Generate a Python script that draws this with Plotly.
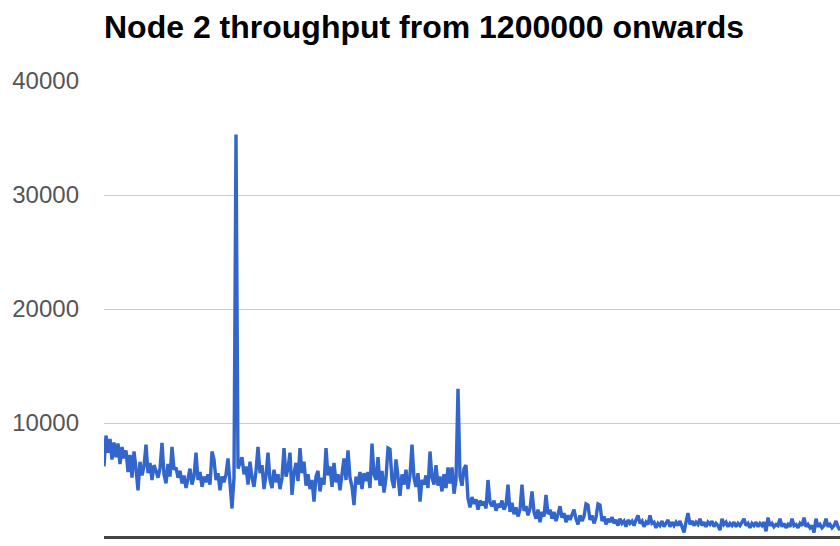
import plotly.graph_objects as go

# Throughput samples (requests per interval) for node 2, one value per sample
early_phase = [
    6200, 8900, 7400, 8600, 6800, 8300, 7000, 8200, 6400, 7900,
    6900, 7600, 5700, 7200, 5200, 7500, 6000, 4100, 6600, 5400,
    6200, 8100, 5600, 6500, 5000, 6300, 5800, 5200, 6000, 8250,
    5500, 4700, 6400, 5300, 7900, 5900, 6100, 5200, 5800, 4700,
    5400, 4300, 5100, 6000, 4600, 5300, 7400, 5000, 5700, 4400,
    5300, 4800, 5500, 4600, 7500, 6800, 5000, 5600, 4100, 5300,
    4800, 5500, 6900, 5000, 2500, 5200, 35300, 6000, 6500,
]
middle_phase = [
    7000, 5500, 6200, 4600, 6600, 5200, 4400, 5800, 7900, 5600,
    6300, 4200, 5400, 7400, 5000, 4300, 5900, 4800, 5500, 4200,
    5200, 7800, 5300, 6000, 7400, 3700, 5600, 6500, 4900, 7800,
    5600, 6600, 4500, 5500, 4200, 5000, 3100, 5300, 5800, 4000,
    5200, 4600, 7800, 5400, 6200, 4400, 6500, 4800, 5500, 4100,
    5300, 6900, 5000, 7600, 5200, 4400, 2800, 5300, 4600, 5700,
    4200, 5600, 4900, 5700, 4300, 8200, 5500,
]
late_phase = [
    5000, 7000, 4500, 5800, 3900, 5200, 7800, 7700, 5000, 4300,
    6800, 5300, 3600, 5500, 4600, 5900, 4200, 5400, 8100, 5200,
    4400, 5600, 3100, 5000, 4600, 5400, 4300, 7500, 5200, 4600,
    6300, 4500, 5300, 4000, 5500, 4300, 6100, 4700, 6100, 3800,
    5000, 13000, 5300, 4500, 6000, 6300, 3400, 2600, 3500, 2900,
    3300, 2400, 3200, 2800, 3100, 2500, 5000, 3000, 2700, 3200,
    2300, 2900, 2600, 3200, 2400, 2800, 4600,
]
decay_phase = [
    2200, 3000, 2000, 2600, 1800, 2400, 4600, 2300, 2700, 1900,
    2500, 4000, 2200, 1600, 2400, 1300, 2200, 1800, 3700, 2000,
    2400, 1600, 2200, 1400, 2000, 2700, 1700, 2100, 1300, 1900,
    1500, 2000, 2400, 1600, 1100, 1900, 1400, 1800, 2900, 2800,
    1500, 1900, 1200, 1700, 2900, 2800, 1400, 1800, 1100, 1600,
    1300, 1750, 1200, 1500, 1000, 1600, 1200, 1400, 900, 1500,
    1200, 1400, 1000, 1500, 1900, 1200, 1400, 900, 1300, 1100,
    1900, 1200, 1300, 800, 1200, 1000, 1400, 900, 1200, 1500,
    900, 1300, 1000,
]
tail_phase = [
    1300, 1000, 1400, 900, 400, 1300, 2100, 1100, 1400, 1000,
    1300, 1100, 1600, 1000, 1300, 900, 1300, 1100, 1400, 900,
    1200, 1000, 600, 1600, 1100, 1300, 900, 1200, 1000, 1300,
    900, 1200, 1000, 1300, 1600, 1000, 1200, 800, 1200, 1000,
    1300, 900, 1200, 1000, 1300, 500, 1700, 1000, 1200, 900,
    1100, 1000, 1600, 900, 1200, 800, 1100, 900, 1600, 1000,
    1100, 800, 1200, 1000, 1700, 900, 1100, 800, 1000, 400,
    1600, 900, 1100, 800, 1000, 1600, 900, 1100, 800, 1000,
    1400, 900, 600,
]

throughput = early_phase + middle_phase + late_phase + decay_phase + tail_phase
sample_index = list(range(len(throughput)))

y_ticks = [0, 10000, 20000, 30000, 40000]
y_tick_labels = ["0", "10000", "20000", "30000", "40000"]

fig = go.Figure(
    go.Scatter(
        x=sample_index,
        y=throughput,
        mode="lines",
        line=dict(color="#3366cc", width=3.4),
        hoverinfo="x+y",
    )
)

fig.update_layout(
    width=840,
    height=546,
    margin=dict(l=104, r=0, t=81, b=9),
    paper_bgcolor="white",
    plot_bgcolor="white",
    showlegend=False,
    font=dict(family="Liberation Sans, Arial, sans-serif"),
    title=dict(
        text="<b>Node 2 throughput from 1200000 onwards</b>",
        font=dict(size=32, color="#000000", family="Liberation Sans, Arial, sans-serif"),
        x=0,
        xref="paper",
        xanchor="left",
        y=1 - 27 / 546,
        yref="container",
        yanchor="middle",
    ),
)

fig.update_xaxes(
    range=[0, len(throughput) - 1],
    showgrid=False,
    zeroline=False,
    showticklabels=False,
    ticks="",
    showline=False,
)

fig.update_yaxes(
    range=[0, 40000],
    tickvals=y_ticks,
    ticktext=y_tick_labels,
    tickfont=dict(size=24, color="#555555"),
    ticklabelstandoff=24,
    showgrid=True,
    gridcolor="#cccccc",
    gridwidth=1,
    zeroline=True,
    zerolinecolor="#444444",
    zerolinewidth=3,
    showline=False,
    ticks="",
)

fig.write_html("out.html")
